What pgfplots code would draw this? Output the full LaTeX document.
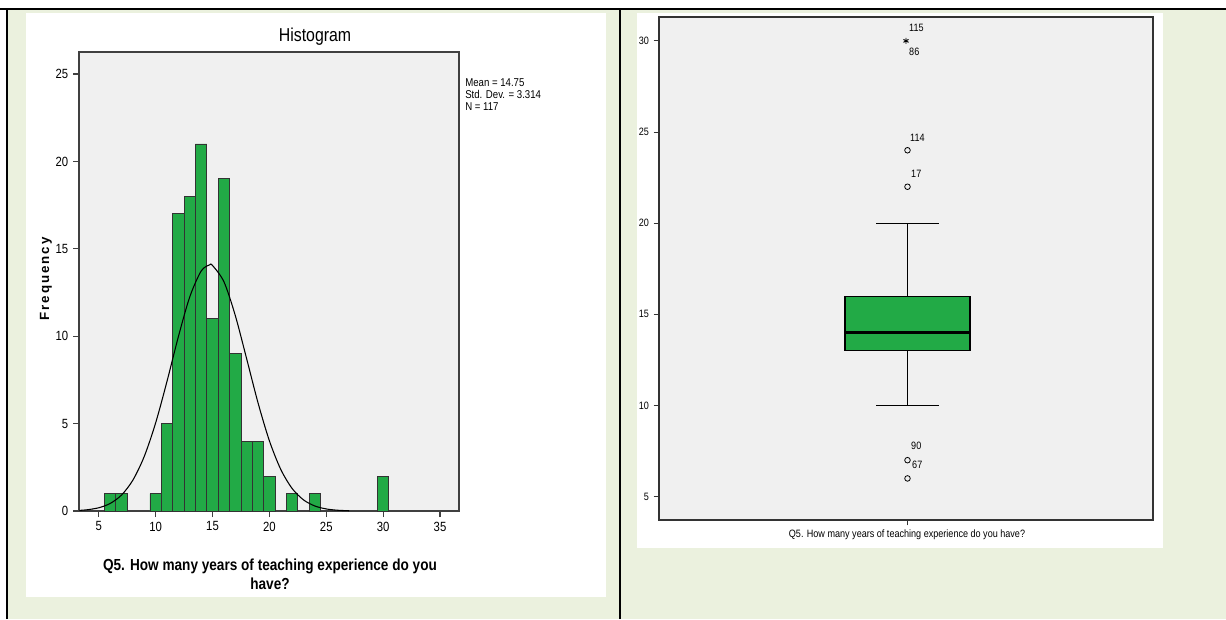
\documentclass[border=0pt]{standalone}
\usepackage{pgfplots}
\pgfplotsset{compat=1.18}
\usepackage{fontspec}
\setmainfont{Liberation Sans}
\newfontfamily\narrow[FakeStretch=0.85]{Liberation Sans}
\definecolor{cellgreen}{RGB}{235,241,222}
\definecolor{plotbg}{RGB}{240,240,240}
\definecolor{barg}{RGB}{34,170,70}
\begin{document}
\begin{tikzpicture}
\begin{scope}[x=0.75pt,y=0.75pt]
\path[use as bounding box, fill=white] (0,0) rectangle (1226,619);
\fill[cellgreen] (7,0) rectangle (1226,610);
\fill[white] (26,22) rectangle (606,606);
\fill[white] (637,71) rectangle (1163,606);
\draw[black, line width=1.5pt] (0,610) -- (1226,610);
\draw[black, line width=1.5pt] (7,0) -- (7,610);
\draw[black, line width=1.5pt] (620,0) -- (620,610);
\node[font=\narrow\fontsize{14}{16}\selectfont] at (315,582) {Histogram};
\node[rotate=90, font=\bfseries\fontsize{10}{12}\selectfont\addfontfeature{LetterSpace=15}] at (46,340) {Frequency};
\node[align=center, font=\narrow\bfseries\fontsize{12}{14.3}\selectfont] at (270,45)
  {Q5. How many years of teaching experience do you\\have?};
\node[anchor=north west, align=left, inner sep=0pt, font=\narrow\fontsize{8.5}{9}\selectfont] at (465,541)
  {Mean = 14.75\\Std. Dev. = 3.314\\N = 117};
\node[font=\narrow\fontsize{8}{10}\selectfont] at (907,84)
  {Q5. How many years of teaching experience do you have?};
\end{scope}

% ---------------- Histogram ----------------
\begin{axis}[at={(59.25pt,81pt)}, anchor=south west, scale only axis,
  width=285pt, height=344.25pt,
  xmin=3.26, xmax=36.67, ymin=0, ymax=26.26,
  axis background/.style={fill=plotbg},
  axis line style={black!75, line width=0.8pt},
  xtick={5,10,...,35}, ytick={0,5,...,25},
  tick align=outside, tick pos=left,
  major tick length=4.5pt,
  tick style={black!75, line width=0.8pt},
  ticklabel style={font=\narrow\fontsize{10}{12}\selectfont},
  /pgf/number format/assume math mode=true,
  clip=true]
\addplot[ybar, bar width=1, fill=barg, draw=black!80, line width=0.6pt]
  coordinates {(6,1)(7,1)(10,1)(11,5)(12,17)(13,18)(14,21)(15,11)(16,19)
               (17,9)(18,4)(19,4)(20,2)(22,1)(24,1)(30,2)};
\addplot[black, line width=0.8pt, smooth] coordinates {
 (3.3,0.036)(4,0.073)(5,0.186)(6,0.432)(7,0.914)(8,1.770)(9,3.127)(10,5.044)
 (11,7.426)(12,9.982)(13,12.253)(14,13.729)(14.75,14.085)(15,14.045)(16,13.118)
 (17,11.186)(18,8.709)(19,6.189)(20,4.016)(21,2.379)(22,1.287)(23,0.636)
 (24,0.286)(25,0.118)(26,0.044)(27,0.015)};
\end{axis}

% ---------------- Boxplot ----------------
\begin{axis}[at={(494.25pt,74.25pt)}, anchor=south west, scale only axis,
  width=370.5pt, height=377.25pt,
  xmin=0, xmax=1, ymin=3.72, ymax=31.31,
  axis background/.style={fill=plotbg},
  axis line style={black!80, line width=0.8pt},
  xtick={0.503}, xticklabels={},
  ytick={5,10,...,30},
  tick align=outside, tick pos=left,
  major tick length=4pt,
  tick style={black!80, line width=0.7pt},
  ticklabel style={font=\narrow\fontsize{8}{10}\selectfont},
  /pgf/number format/assume math mode=true]
% whiskers
\addplot[black, line width=0.8pt] coordinates {(0.503,16)(0.503,20)};
\addplot[black, line width=0.8pt] coordinates {(0.4402,20)(0.5658,20)};
\addplot[black, line width=0.8pt] coordinates {(0.503,13)(0.503,10)};
\addplot[black, line width=0.8pt] coordinates {(0.4402,10)(0.5658,10)};
% box (Q1=13, Q3=16)
\addplot[fill=barg, draw=black, line width=0.8pt]
  coordinates {(0.3765,13)(0.6295,13)(0.6295,16)(0.3765,16)} -- cycle;
% median
\addplot[black, line width=2.2pt] coordinates {(0.3765,14)(0.6295,14)};
% outliers
\addplot[only marks, mark=o, mark size=2.1pt, black, mark options={line width=0.6pt}]
  coordinates {(0.503,24)(0.503,22)(0.503,7)(0.503,6)};
\addplot[only marks, mark=asterisk, mark size=2.2pt, black, mark options={line width=0.7pt}]
  coordinates {(0.5,30)};
\node[anchor=west, inner sep=0pt, font=\narrow\fontsize{8}{10}\selectfont] at (axis cs:0.506,30.71) {115};
\node[anchor=west, inner sep=0pt, font=\narrow\fontsize{8}{10}\selectfont] at (axis cs:0.506,29.39) {86};
\node[anchor=west, inner sep=0pt, font=\narrow\fontsize{8}{10}\selectfont] at (axis cs:0.508,24.68) {114};
\node[anchor=west, inner sep=0pt, font=\narrow\fontsize{8}{10}\selectfont] at (axis cs:0.510,22.70) {17};
\node[anchor=west, inner sep=0pt, font=\narrow\fontsize{8}{10}\selectfont] at (axis cs:0.510,7.78) {90};
\node[anchor=west, inner sep=0pt, font=\narrow\fontsize{8}{10}\selectfont] at (axis cs:0.512,6.74) {67};
\end{axis}
\end{tikzpicture}
\end{document}
